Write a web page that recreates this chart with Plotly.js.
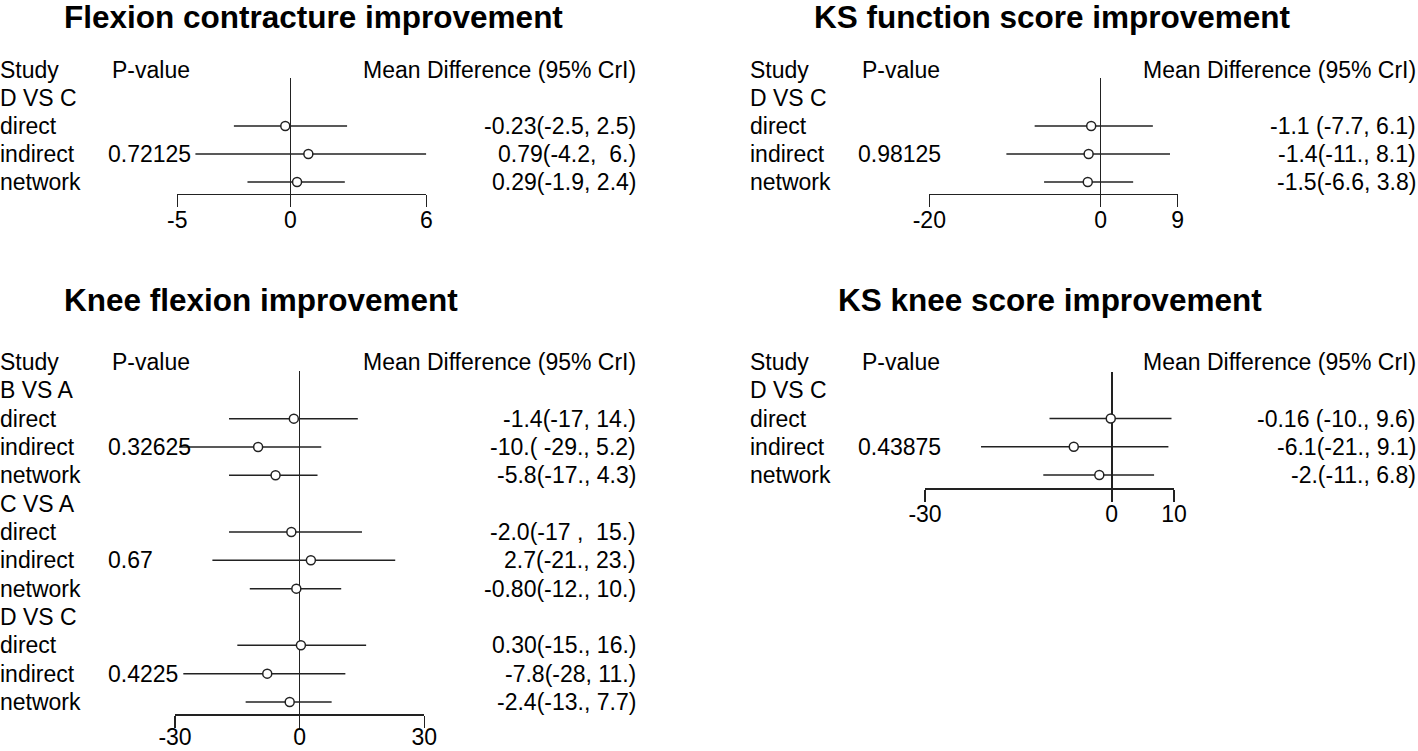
<!DOCTYPE html>
<html><head><meta charset="utf-8">
<script src="https://cdn.plot.ly/plotly-3.0.1.min.js"></script>
<style>html,body{margin:0;padding:0;background:#fff}</style>
</head><body><div id="chart" style="width:1418px;height:751px"></div>
<script>
// ---------- DATA ----------
const fcTitle = "Flexion contracture improvement";
const fcRows  = ["D VS C","direct","indirect","network"];
const fcEst   = [null,-0.23,0.79,0.29];
const fcLow   = [null,-2.5,-4.2,-1.9];
const fcHigh  = [null,2.5,6.0,2.4];
const fcP     = ["","","0.72125",""];
const fcCI    = ["","-0.23(-2.5, 2.5)","0.79(-4.2,\u00a0 6.)","0.29(-1.9, 2.4)"];
const fcTicks = [-5,0,6];

const ksfTitle = "KS function score improvement";
const ksfRows  = ["D VS C","direct","indirect","network"];
const ksfEst   = [null,-1.1,-1.4,-1.5];
const ksfLow   = [null,-7.7,-11,-6.6];
const ksfHigh  = [null,6.1,8.1,3.8];
const ksfP     = ["","","0.98125",""];
const ksfCI    = ["","-1.1 (-7.7, 6.1)","-1.4(-11., 8.1)","-1.5(-6.6, 3.8)"];
const ksfTicks = [-20,0,9];

const kfTitle = "Knee flexion improvement";
const kfRows  = ["B VS A","direct","indirect","network","C VS A","direct","indirect","network","D VS C","direct","indirect","network"];
const kfEst   = [null,-1.4,-10,-5.8,null,-2.0,2.7,-0.8,null,0.3,-7.8,-2.4];
const kfLow   = [null,-17,-29,-17,null,-17,-21,-12,null,-15,-28,-13];
const kfHigh  = [null,14,5.2,4.3,null,15,23,10,null,16,11,7.7];
const kfP     = ["","","0.32625","","","","0.67","","","","0.4225",""];
const kfCI    = ["","-1.4(-17, 14.)","-10.( -29., 5.2)","-5.8(-17., 4.3)","","-2.0(-17 ,\u00a0 15.)","2.7(-21., 23.)","-0.80(-12., 10.)","","0.30(-15., 16.)","-7.8(-28, 11.)","-2.4(-13., 7.7)"];
const kfTicks = [-30,0,30];

const kskTitle = "KS knee score improvement";
const kskRows  = ["D VS C","direct","indirect","network"];
const kskEst   = [null,-0.16,-6.1,-2.0];
const kskLow   = [null,-10,-21,-11];
const kskHigh  = [null,9.6,9.1,6.8];
const kskP     = ["","","0.43875",""];
const kskCI    = ["","-0.16 (-10., 9.6)","-6.1(-21., 9.1)","-2.(-11., 6.8)"];
const kskTicks = [-30,0,10];

const headStudy = "Study", headP = "P-value", headMD = "Mean Difference (95% CrI)";

// ---------- LAYOUT HELPERS ----------
const W = 1418, H = 751;
const FONT = "Liberation Sans, Arial, sans-serif";
const INK = "#222";
const px = x => x / W;
const py = y => 1 - y / H;

const panels = [
  {title:fcTitle, rows:fcRows, est:fcEst, lo:fcLow, hi:fcHigh, p:fcP, ci:fcCI, ticks:fcTicks, stand:-7,
   xPix:[177.3,426.3], row0:70, dy:28, top:78, axisY:193.5, tX:313, tY:17, sX:0, pHX:112, pX:108, mdX:636},
  {title:ksfTitle, rows:ksfRows, est:ksfEst, lo:ksfLow, hi:ksfHigh, p:ksfP, ci:ksfCI, ticks:ksfTicks, stand:-7,
   xPix:[929.3,1177.7], row0:70, dy:28, top:78, axisY:193.5, tX:1052, tY:17, sX:750, pHX:862, pX:858, mdX:1416},
  {title:kfTitle, rows:kfRows, est:kfEst, lo:kfLow, hi:kfHigh, p:kfP, ci:kfCI, ticks:kfTicks, stand:-10,
   xPix:[175,424.3], row0:362, dy:28.33, top:371, axisY:714, tX:261, tY:300, sX:0, pHX:112, pX:108, mdX:636},
  {title:kskTitle, rows:kskRows, est:kskEst, lo:kskLow, hi:kskHigh, p:kskP, ci:kskCI, ticks:kskTicks, stand:-7,
   xPix:[925,1174], row0:362, dy:28.25, top:372, axisY:488, tX:1050, tY:300, sX:750, pHX:862, pX:858, mdX:1416}
];

const data = [], annotations = [];
const layout = {
  width: W, height: H, margin:{l:0,r:0,t:0,b:0},
  paper_bgcolor:"#fff", plot_bgcolor:"rgba(0,0,0,0)", showlegend:false,
  font:{family:FONT, size:23, color:"#000"}, annotations
};

panels.forEach((P, k) => {
  const n = k + 1;
  const xa = "x" + (n === 1 ? "" : n), ya = "y" + (n === 1 ? "" : n);
  const xName = "xaxis" + (n === 1 ? "" : n), yName = "yaxis" + (n === 1 ? "" : n);
  const rTop = (P.top - P.row0) / P.dy, rBot = (P.axisY - P.row0) / P.dy;
  const ticks = P.ticks;
  layout[xName] = {
    domain:[px(P.xPix[0]), px(P.xPix[1])], range:[ticks[0], ticks[ticks.length-1]],
    anchor:ya, showgrid:false, zeroline:true, zerolinecolor:INK, zerolinewidth:1.5,
    showline:true, linecolor:INK, linewidth:1.5, ticks:"outside", ticklen:12, tickwidth:1.5, tickcolor:INK,
    tickmode:"array", tickvals:ticks, ticktext:ticks.map(String), ticklabelstandoff:P.stand,
    tickfont:{family:FONT, size:23, color:"#000"}, fixedrange:true
  };
  layout[yName] = {
    domain:[py(P.axisY), py(P.top)], range:[rBot, rTop], anchor:xa,
    visible:false, showgrid:false, zeroline:false, fixedrange:true
  };
  const yv = P.rows.map((_, i) => i + 1);
  data.push({
    type:"scatter", mode:"markers", xaxis:xa, yaxis:ya, cliponaxis:false,
    x:P.est, y:yv,
    error_x:{type:"data", symmetric:false,
      array:P.hi.map((h,i)=> h==null?null:h-P.est[i]),
      arrayminus:P.lo.map((l,i)=> l==null?null:P.est[i]-l),
      width:0, thickness:1.5, color:INK},
    marker:{symbol:"circle", size:9, color:"#fff", line:{color:INK, width:1.5}},
    hoverinfo:"skip"
  });
  // title
  annotations.push({xref:"paper", yref:"paper", x:px(P.tX), y:py(P.tY), xanchor:"center", yanchor:"middle",
    text:"<b>"+P.title+"</b>", showarrow:false, borderpad:0, borderwidth:0,
    font:{family:FONT, size:31.5, color:"#000"}});
  // table text: row r sits at pixel row0 + r*dy
  const rowY = r => py(P.row0 + r * P.dy);
  const txt = (x, r, t, anchor) => annotations.push({xref:"paper", yref:"paper", x:px(x), y:rowY(r), xanchor:anchor,
    yanchor:"middle", text:t, showarrow:false, borderpad:0, borderwidth:0,
    font:{family:FONT, size:23, color:"#000"}});
  txt(P.sX, 0, headStudy, "left");
  txt(P.pHX, 0, headP, "left");
  txt(P.mdX, 0, headMD, "right");
  P.rows.forEach((r, i) => {
    txt(P.sX, i+1, r, "left");
    if (P.p[i]) txt(P.pX, i+1, P.p[i], "left");
    if (P.ci[i]) txt(P.mdX, i+1, P.ci[i], "right");
  });
});

Plotly.newPlot("chart", data, layout, {staticPlot:true, displayModeBar:false});
</script></body></html>
